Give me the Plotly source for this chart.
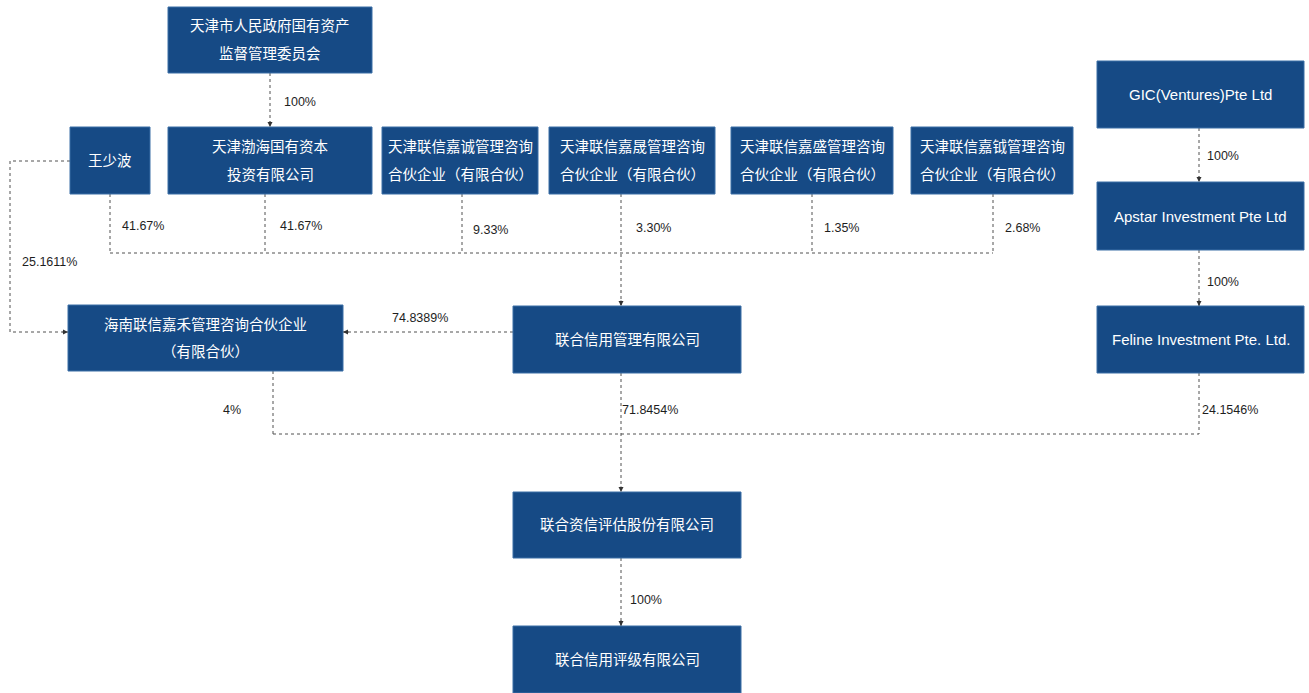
import plotly.graph_objects as go

# ---------------- data ----------------
entity_names = [
    "天津市人民政府国有资产\n监督管理委员会",
    "王少波",
    "天津渤海国有资本\n投资有限公司",
    "天津联信嘉诚管理咨询\n合伙企业（有限合伙）",
    "天津联信嘉晟管理咨询\n合伙企业（有限合伙）",
    "天津联信嘉盛管理咨询\n合伙企业（有限合伙）",
    "天津联信嘉钺管理咨询\n合伙企业（有限合伙）",
    "GIC(Ventures)Pte Ltd",
    "Apstar Investment Pte Ltd",
    "Feline Investment Pte. Ltd.",
    "海南联信嘉禾管理咨询合伙企业\n（有限合伙）",
    "联合信用管理有限公司",
    "联合资信评估股份有限公司",
    "联合信用评级有限公司",
]
holding_from = [0, 1, 2, 3, 4, 5, 6, 1, 11, 7, 8, 10, 11, 9, 12]
holding_to = [2, 11, 11, 11, 11, 11, 11, 10, 10, 8, 9, 12, 12, 12, 13]
holding_pct = ["100%", "41.67%", "41.67%", "9.33%", "3.30%", "1.35%", "2.68%",
               "25.1611%", "74.8389%", "100%", "100%", "4%", "71.8454%",
               "24.1546%", "100%"]

# ---------------- layout (pixel space) ----------------
W, H = 1309, 693
boxes = [
    (168, 7, 372, 73),
    (70, 127, 150, 194),
    (168, 127, 372, 194),
    (382, 127, 538, 194),
    (549, 127, 715, 194),
    (731, 127, 893, 194),
    (911, 127, 1073, 194),
    (1097, 61, 1304, 128),
    (1097, 182, 1304, 250),
    (1097, 306, 1304, 373),
    (68, 305, 343, 371),
    (513, 306, 741, 373),
    (513, 492, 741, 558),
    (513, 626, 741, 693),
]
# routing: 'v' straight vertical at x; 'bus' drop at x to bus y; 'custom' waypoints
routes = [
    ("v", 270), ("bus", 110, 253), ("bus", 265, 253), ("bus", 462, 253),
    ("bus", 621, 253), ("bus", 812, 253), ("bus", 993, 253),
    ("custom", [(70, 161), (10, 161), (10, 332), (68, 332)]),
    ("custom", [(513, 332), (343, 332)]),
    ("v", 1199), ("v", 1199),
    ("bus", 273, 434), ("bus", 621, 434), ("bus", 1199, 434),
    ("v", 621),
]
trunks = {253: 621, 434: 621}
label_pos = [
    (282, 102, "left"), (120, 226, "left"), (278, 226, "left"), (471, 230, "left"),
    (634, 228, "left"), (822, 228, "left"), (1003, 228, "left"),
    (20, 262, "left"), (420, 318, "center"), (1205, 156, "left"),
    (1205, 282, "left"), (232, 410, "center"), (620, 410, "left"),
    (1200, 410, "left"), (628, 600, "left"),
]

BOX_FILL = "#164a85"
BOX_LINE = "#3a6ea6"
LINE_COL = "#505050"
FONT = "Liberation Sans, Arial, sans-serif"
CJK = "Liberation Sans, Noto Sans CJK SC, sans-serif"

fig = go.Figure()
shapes = []
annos = []


def seg(points):
    d = "M " + " L ".join(f"{x},{y}" for x, y in points)
    shapes.append(dict(type="path", path=d, xref="x", yref="y",
                       line=dict(color=LINE_COL, width=1, dash="dot"), layer="below"))


def arrow(x, y, dx, dy):
    # arrowhead tip at (x, y); tail offset (dx, dy) in pixels
    annos.append(dict(x=x, y=y, ax=dx, ay=dy, xref="x", yref="y", text="",
                      showarrow=True, arrowhead=2, arrowsize=1, arrowwidth=1,
                      arrowcolor="#333333", standoff=0))


def sign(v):
    return (v > 0) - (v < 0)


bus_extent = {}
for i, r in enumerate(routes):
    s, t = holding_from[i], holding_to[i]
    sb, tb = boxes[s], boxes[t]
    if r[0] == "v":
        x = r[1]
        seg([(x, sb[3]), (x, tb[1])])
        arrow(x, tb[1], 0, -7)
    elif r[0] == "bus":
        x, by = r[1], r[2]
        if x != trunks[by]:
            seg([(x, sb[3]), (x, by)])
        bus_extent.setdefault(by, [x, x, tb])
        bus_extent[by][0] = min(bus_extent[by][0], x)
        bus_extent[by][1] = max(bus_extent[by][1], x)
    else:
        pts = r[1]
        seg(pts)
        (x1, y1), (x2, y2) = pts[-2], pts[-1]
        arrow(x2, y2, 7 * sign(x1 - x2), 7 * sign(y1 - y2))

for by, (x0, x1, tb) in bus_extent.items():
    tx = trunks[by]
    seg([(x0, by), (x1, by)])
    top_src = None
    for i, r in enumerate(routes):
        if r[0] == "bus" and r[2] == by and r[1] == tx:
            top_src = boxes[holding_from[i]][3]
    start = top_src if top_src is not None else by
    seg([(tx, start), (tx, tb[1])])
    arrow(tx, tb[1], 0, -7)

# boxes and box texts
for name, (x0, y0, x1, y1) in zip(entity_names, boxes):
    shapes.append(dict(type="rect", x0=x0, y0=y0, x1=x1, y1=y1, xref="x", yref="y",
                       fillcolor=BOX_FILL, line=dict(color=BOX_LINE, width=1), layer="above"))
    lines = name.split("\n")
    cx, cy = (x0 + x1) / 2, (y0 + y1) / 2
    gap = 28
    n = len(lines)
    ascii_only = all(ord(c) < 128 for c in name)
    for k, ln in enumerate(lines):
        yy = cy + (k - (n - 1) / 2) * gap
        annos.append(dict(x=cx, y=yy, xref="x", yref="y", text=ln, showarrow=False,
                          font=dict(family=FONT if ascii_only else CJK,
                                    size=15 if ascii_only else 14.5, color="white"),
                          xanchor="center", yanchor="middle"))

# percent labels
for pct, (lx, ly, anc) in zip(holding_pct, label_pos):
    annos.append(dict(x=lx, y=ly, xref="x", yref="y", text=pct, showarrow=False,
                      font=dict(family=FONT, size=12.5, color="#1e1e1e"),
                      xanchor=anc, yanchor="middle"))

fig.update_layout(
    width=W, height=H, margin=dict(l=0, r=0, t=0, b=0),
    paper_bgcolor="white", plot_bgcolor="white",
    xaxis=dict(range=[0, W], visible=False, fixedrange=True),
    yaxis=dict(range=[H, 0], visible=False, fixedrange=True),
    shapes=shapes, annotations=annos, showlegend=False,
)
fig.write_html("out.html", config={"displayModeBar": False},
               post_script="document.body.style.margin='0';document.body.style.overflow='hidden';")
